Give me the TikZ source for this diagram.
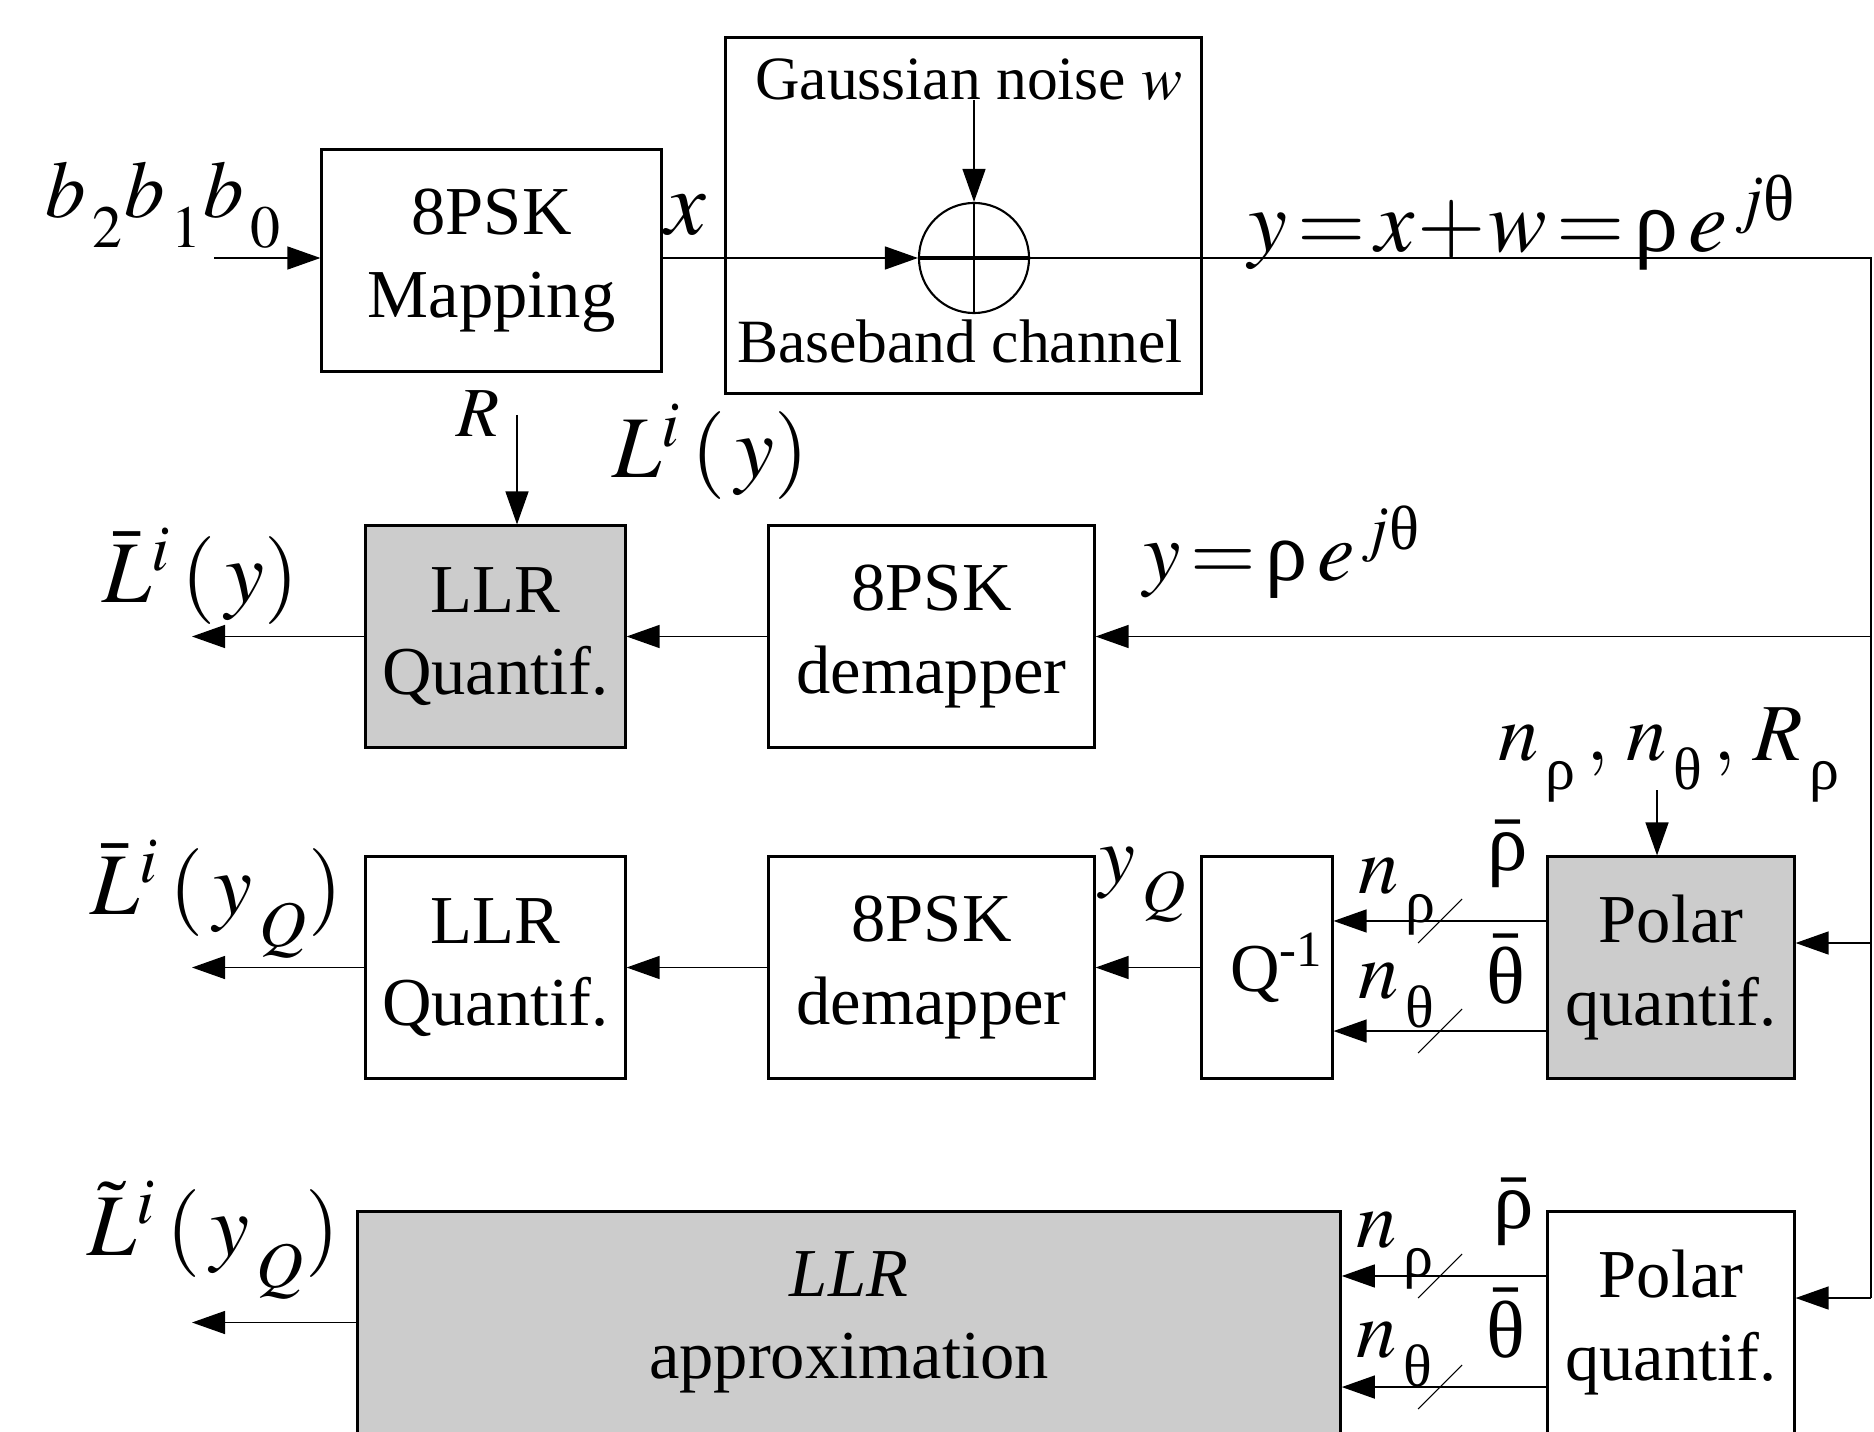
\documentclass[tikz,border=0pt]{standalone}
\usepackage{amsmath}
\usepackage{mathptmx}
\usepackage[no-math]{fontspec}
\setmainfont{Liberation Serif}
\usepackage{xcolor}
\usetikzlibrary{arrows.meta}
\definecolor{boxgray}{RGB}{204,204,204}
% upright greek as in the original drawing
\newcommand{\urho}{\text{\upshape ρ}}
\newcommand{\uth}{\text{\upshape θ}}
% lowered subscript
\newcommand{\lsub}[1]{_{\raisebox{-0.22em}{$\scriptstyle\,#1$}}}

\begin{document}
\begin{tikzpicture}[x=0.01cm, y=0.01cm,
    every node/.style={inner sep=0pt},
    blk/.style={draw, line width=0.85pt, align=center, minimum height=2.21cm,
      font=\fontsize{19.5}{23.5}\selectfont},
    grey/.style={fill=boxgray},
    arr/.style={line width=0.4pt, -{Triangle[length=3.3mm,width=2.3mm]}},
    lbl/.style={anchor=base west, font=\fontsize{23}{27}\selectfont},
    small/.style={anchor=base, font=\fontsize{17.5}{21}\selectfont}]
  \path[use as bounding box] (0,0) rectangle (1874,-1431);
  \clip (0,0) rectangle (1874,-1431);

  % transmitter and channel
  \node[blk, minimum width=3.39cm] (map) at (491.5,-260.5) {8PSK\\Mapping};
  \node[draw, line width=0.85pt, minimum width=4.75cm, minimum height=3.55cm] (chan) at (963.5,-215.5) {};
  \node[small] (noise) at (969,-100) {Gaussian noise $w$};
  \node[small] (bbch) at (960,-363) {Baseband channel};
  \node[draw, circle, line width=0.6pt, minimum size=1.1cm] (sum) at (974,-258) {};
  \draw[line width=1.2pt] (sum.west) -- (sum.east);
  \draw[line width=0.3pt] (sum.north) -- (sum.south);

  % receiver blocks
  \node[blk, grey, minimum width=2.59cm] (llrA) at (495.5,-636.5) {LLR\\Quantif.};
  \node[blk, minimum width=3.25cm] (demA) at (931.5,-636.5) {8PSK\\demapper};
  \node[blk, minimum width=2.59cm] (llrB) at (495.5,-967.5) {LLR\\Quantif.};
  \node[blk, minimum width=3.25cm] (demB) at (931.5,-967.5) {8PSK\\demapper};
  \node[blk, minimum width=1.30cm] (qinv) at (1267,-967.5) {\hspace*{2mm}Q\textsuperscript{-1}};
  \node[blk, grey, minimum width=2.46cm] (polA) at (1671,-967.5) {Polar\\quantif.};
  \node[blk, grey, minimum width=9.82cm] (appr) at (849,-1322.5) {\textit{LLR}\\approximation};
  \node[blk, minimum width=2.46cm] (polB) at (1671,-1322.5) {Polar\\quantif.};

  % free ends
  \coordinate (bin) at (214,-258);
  \coordinate (nz) at (974,-100);
  \coordinate (bus) at (1871,-258);
  \coordinate (busA) at (1871,-943);
  \coordinate (busB) at (1871,-1298);
  \coordinate (rin) at (517,-415);
  \coordinate (nin) at (1657,-790);
  \coordinate (outA) at (192,-636.5);
  \coordinate (outB) at (192,-967.5);
  \coordinate (outC) at (192,-1322.5);

  % connectors
  \draw[arr] (bin) -- (bin -| map.west);
  \draw[arr] (map.east |- sum) -- (sum.west);
  \draw[arr] (nz) -- (sum.north);
  \draw[line width=0.4pt] (sum.east) -- (bus) -- (busB);
  \draw[arr] (bus |- demA) -- (demA.east);
  \draw[arr] (busA) -- (busA -| polA.east);
  \draw[arr] (busB) -- (busB -| polB.east);
  \draw[arr] (rin) -- (rin |- llrA.north);
  \draw[arr] (demA.west) -- (llrA.east);
  \draw[arr] (llrA.west) -- (outA);
  \draw[arr] (nin) -- (nin |- polA.north);
  \draw[arr] ([yshift=4.65mm]polA.west) -- ([yshift=4.65mm]qinv.east);
  \draw[arr] ([yshift=-6.35mm]polA.west) -- ([yshift=-6.35mm]qinv.east);
  \draw[arr] (qinv.west) -- (demB.east);
  \draw[arr] (demB.west) -- (llrB.east);
  \draw[arr] (llrB.west) -- (outB);
  \draw[arr] ([yshift=4.65mm]polB.west) -- ([yshift=4.65mm]appr.east);
  \draw[arr] ([yshift=-6.45mm]polB.west) -- ([yshift=-6.45mm]appr.east);
  \draw[arr] (appr.west) -- (outC);
  % bus width marks
  \foreach \y in {-921,-1031,-1276,-1387}
    \draw[line width=0.3pt] (1418,\y-22) -- (1462,\y+22);

  % labels
  \node[lbl] (bits) at (45,-218) {$b\lsub{2}b\lsub{1}b\lsub{0}$};
  \node[lbl, anchor=base, font=\fontsize{26}{30}\selectfont] (xl) at (686,-235) {$x$};
  \node[lbl, font=\fontsize{25}{29}\selectfont] (yl) at (1248,-252) {$y\!=\!x\!+\!w\!=\!\urho\,e^{\,j\uth}$};
  \node[lbl, font=\fontsize{20}{24}\selectfont] (rl) at (456,-437) {$R$};
  \node[lbl, font=\fontsize{25}{29}\selectfont] (lyl) at (612,-478) {$L^{i}\,(\,y)$};
  \node[lbl, font=\fontsize{25}{29}\selectfont] (lbl1) at (102,-602) {$\bar{L}^{i}\,(\,y)$};
  \node[lbl, font=\fontsize{24}{28}\selectfont] (yrl) at (1143,-580) {$y\!=\!\urho\,e^{\,j\uth}$};
  \node[lbl, font=\fontsize{25}{29}\selectfont] (lbl2) at (90,-914) {$\bar{L}^{i}\,(\,y\lsub{Q})$};
  \node[lbl, font=\fontsize{25}{29}\selectfont] (lbl3) at (87,-1255) {$\tilde{L}^{i}\,(\,y\lsub{Q})$};
  \node[lbl] (nl) at (1498,-760) {$n\lsub{\urho}\,,\,n\lsub{\uth}\,,\,R\lsub{\urho}$};
  \node[lbl] (yq) at (1099,-882) {$y\lsub{Q}$};
  \node[lbl] (nra) at (1358,-893) {$n\lsub{\urho}$};
  \node[lbl, anchor=base] (rba) at (1508,-870) {$\bar{\urho}$};
  \node[lbl, anchor=base] (tba) at (1506,-1003) {$\bar{\uth}$};
  \node[lbl] (nta) at (1358,-998) {$n\lsub{\uth}$};
  \node[lbl] (nrb) at (1356,-1247) {$n\lsub{\urho}$};
  \node[lbl, anchor=base] (rbb) at (1514,-1228) {$\bar{\urho}$};
  \node[lbl, anchor=base] (tbb) at (1506,-1357) {$\bar{\uth}$};
  \node[lbl] (ntb) at (1356,-1357) {$n\lsub{\uth}$};
\end{tikzpicture}
\end{document}
